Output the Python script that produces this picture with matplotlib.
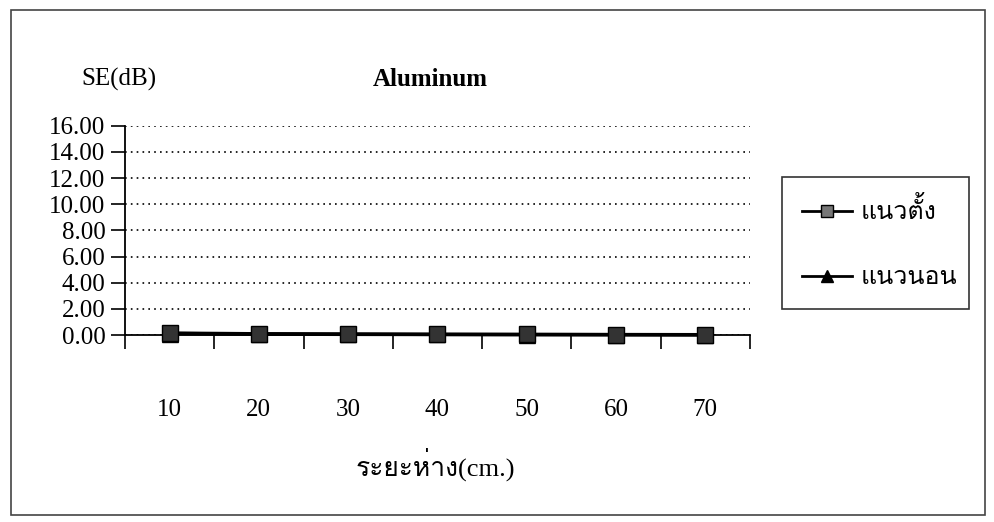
import matplotlib
matplotlib.use("Agg")
import matplotlib.pyplot as plt
from matplotlib import font_manager
from matplotlib.lines import Line2D
from matplotlib.patches import Rectangle

# ---- data ----
categories = ["10", "20", "30", "40", "50", "60", "70"]
vertical = [0.15, 0.10, 0.08, 0.06, 0.05, 0.04, 0.03]     # แนวตั้ง
horizontal = [0.12, 0.08, 0.06, 0.05, 0.04, 0.03, 0.02]   # แนวนอน
yticks = [0, 2, 4, 6, 8, 10, 12, 14, 16]
title = "Aluminum"
ylabel = "SE(dB)"
xlabel = "ระยะห่าง(cm.)"
series_names = ["แนวตั้ง", "แนวนอน"]

# ---- find a font with Thai glyphs ----
thai_fonts = []
try:
    from fontTools.ttLib import TTFont
    seen = set()
    for f in font_manager.fontManager.ttflist:
        if f.name in seen:
            continue
        try:
            tt = TTFont(f.fname, fontNumber=0, lazy=True)
            cmap = tt.getBestCmap() or {}
            if 0x0E41 in cmap and 0x0E07 in cmap:
                thai_fonts.append(f.name)
                seen.add(f.name)
        except Exception:
            pass
except Exception:
    pass

serif = ["Liberation Serif", "DejaVu Serif"]
fam = serif + thai_fonts + ["DejaVu Sans"]
plt.rcParams["font.family"] = fam

fig = plt.figure(figsize=(9.95, 5.22), dpi=100)
ax = fig.add_axes([0.1256, 0.358, 0.628, 0.401])

x = [i + 0.5 for i in range(len(categories))]
ax.plot(x, horizontal, color="black", lw=2.5, marker="^", markersize=11,
        markerfacecolor="#222222", markeredgecolor="black", zorder=3, clip_on=False)
ax.plot(x, vertical, color="black", lw=2.5, marker="s", markersize=11,
        markerfacecolor="#333333", markeredgecolor="black", zorder=4, clip_on=False)

ax.set_xlim(0, len(categories))
ax.set_ylim(0, 16)
ax.set_yticks(yticks)
ax.set_yticklabels([f"{v:.2f}" for v in yticks], fontsize=18)
ax.yaxis.grid(True, linestyle=(0, (1, 2.5)), color="black", lw=1.2)
ax.set_axisbelow(True)

ax.set_xticks(range(len(categories) + 1))
ax.set_xticklabels([])
ax.set_xticks(x, minor=True)
ax.set_xticklabels(categories, minor=True, fontsize=18)
ax.tick_params(axis="x", which="major", direction="out", length=10, width=1.2)
ax.tick_params(axis="x", which="minor", length=0, pad=46)
ax.tick_params(axis="y", direction="out", length=10, width=1.2, pad=4)

for s in ["top", "right"]:
    ax.spines[s].set_visible(False)
for s in ["left", "bottom"]:
    ax.spines[s].set_linewidth(1.3)

fig.text(0.12, 0.848, ylabel, fontsize=18, ha="center", va="center")
fig.text(0.432, 0.848, title, fontsize=18, fontweight="bold", ha="center", va="center")
fig.text(0.438, 0.11, xlabel, fontsize=19, ha="center", va="center")

handles = [
    Line2D([], [], color="black", lw=2, marker="s", markersize=9,
           markerfacecolor="#777777", markeredgecolor="black"),
    Line2D([], [], color="black", lw=2, marker="^", markersize=9,
           markerfacecolor="black", markeredgecolor="black"),
]
leg = fig.legend(handles, series_names, loc="upper left",
                 bbox_to_anchor=(0.786, 0.41, 0.188, 0.25), mode="expand",
                 fontsize=18, frameon=True, fancybox=False, edgecolor="black",
                 labelspacing=1.7, handlelength=2.0, handletextpad=0.35,
                 borderpad=0.8, borderaxespad=0)
leg.get_frame().set_linewidth(1.2)

fig.patches.append(Rectangle((0.011, 0.014), 0.979, 0.966, transform=fig.transFigure,
                             fill=False, edgecolor="#444444", lw=1.2))

fig.savefig("out.png", dpi=100)
